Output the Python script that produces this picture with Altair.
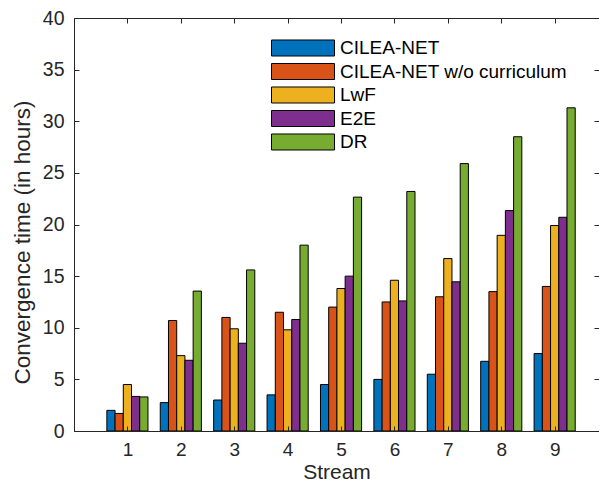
import altair as alt
import pandas as pd

streams = [1, 2, 3, 4, 5, 6, 7, 8, 9]
methods = ["CILEA-NET", "CILEA-NET w/o curriculum", "LwF", "E2E", "DR"]
colors = ["#0072BD", "#D95319", "#EDB120", "#7E2F8E", "#77AC30"]

cilea_net = [2.0, 2.75, 3.0, 3.5, 4.5, 5.0, 5.5, 6.75, 7.5]
cilea_no_curr = [1.7, 10.7, 11.0, 11.5, 12.0, 12.5, 13.0, 13.5, 14.0]
lwf = [4.5, 7.3, 9.9, 9.8, 13.8, 14.6, 16.7, 18.95, 19.9]
e2e = [3.35, 6.85, 8.5, 10.8, 15.0, 12.6, 14.45, 21.35, 20.7]
dr = [3.3, 13.55, 15.6, 18.0, 22.65, 23.2, 25.9, 28.5, 31.3]

series = [cilea_net, cilea_no_curr, lwf, e2e, dr]
group_width = 0.77
bw = group_width / len(methods)

rows = []
for i, (m, vals) in enumerate(zip(methods, series)):
    for s, v in zip(streams, vals):
        x0 = s - group_width / 2 + i * bw
        rows.append({"Stream": s, "Method": m, "order": i, "value": v,
                     "base": 0.0, "x0": x0, "x1": x0 + bw})
df = pd.DataFrame(rows)

FONT = "Liberation Sans"
AX = "#262626"
yvals = list(range(0, 41, 5))

xscale = alt.Scale(domain=[0, 9.83], nice=False, zero=False)
yscale = alt.Scale(domain=[0, 40], nice=False)

bars = alt.Chart(df).mark_rect(stroke="black", strokeWidth=1, opacity=1).encode(
    x=alt.X("x0:Q", scale=xscale,
            axis=alt.Axis(values=streams, title="Stream", orient="bottom",
                          ticks=False, labelPadding=9, titlePadding=2,
                          labelFontSize=19, titleFontSize=21, zindex=1,
                          grid=True, gridDash=[5, 2000], gridColor=AX,
                          gridOpacity=1, format="d")),
    x2="x1:Q",
    y=alt.Y("value:Q", scale=yscale,
            axis=alt.Axis(values=yvals,
                          title="Convergence time (in hours)", orient="left",
                          ticks=False, labelPadding=10, titlePadding=8,
                          labelFontSize=19.5, titleFontSize=22.5, titleY=224,
                          zindex=1,
                          grid=True, gridDash=[5, 2000], gridColor=AX,
                          gridOpacity=1)),
    y2="base:Q",
    color=alt.Color("Method:N", scale=alt.Scale(domain=methods, range=colors),
                    sort=methods,
                    legend=alt.Legend(title=None, orient="none",
                                      legendX=197, legendY=19,
                                      symbolType="M-1,-0.254H1V0.254H-1Z",
                                      symbolSize=3969, symbolStrokeColor="black",
                                      symbolStrokeWidth=1, symbolOpacity=1,
                                      clipHeight=22, rowPadding=1.5,
                                      labelFontSize=19, labelFont=FONT,
                                      labelColor="black", labelOffset=5,
                                      padding=0, labelLimit=400)),
    order=alt.Order("order:Q"),
)

frame = alt.Chart(df).mark_rect(opacity=0).encode(
    x=alt.X("x0:Q", scale=xscale,
            axis=alt.Axis(values=streams, title=None, orient="top",
                          labels=False, ticks=False, domain=False, zindex=1,
                          grid=True, gridDash=[5, 2000], gridColor=AX,
                          gridOpacity=1)),
    x2="x1:Q",
    y=alt.Y("value:Q", scale=yscale,
            axis=alt.Axis(values=yvals, title=None,
                          orient="right", labels=False, ticks=False, zindex=1,
                          domain=False, grid=True, gridDash=[5, 2000],
                          gridColor=AX, gridOpacity=1)),
    y2="base:Q",
)

chart = alt.layer(bars, frame).resolve_axis(
    x="independent", y="independent"
).properties(
    width=525, height=413,
    padding={"left": 66, "top": 10, "right": 0, "bottom": 51},
    autosize=alt.AutoSizeParams(type="none"),
    background="white",
).configure_view(
    stroke=AX, strokeWidth=1
).configure_axis(
    labelFont=FONT, titleFont=FONT,
    labelColor=AX, titleColor=AX, titleFontWeight="normal",
    domainColor=AX, domainWidth=1,
)

chart.save("out.html", embed_options={"renderer": "svg", "actions": False})
